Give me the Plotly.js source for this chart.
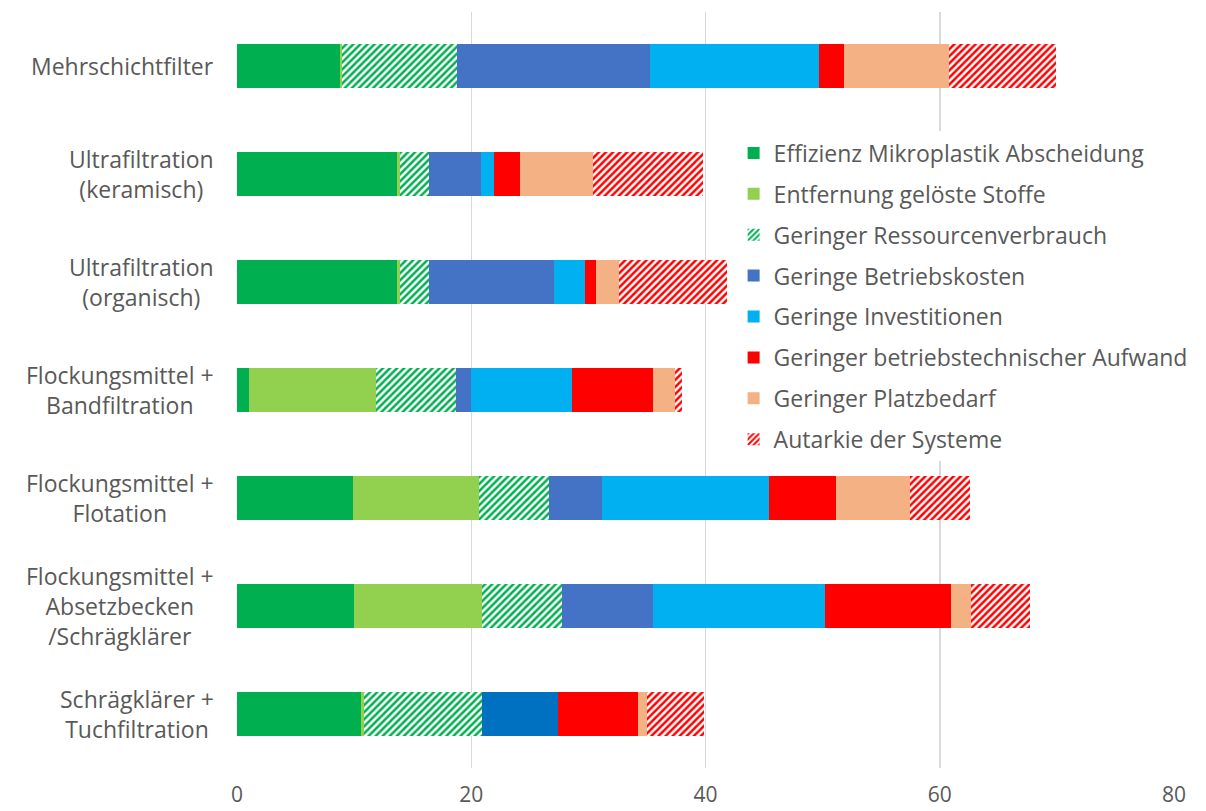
<!DOCTYPE html>
<html>
<head>
<meta charset="utf-8">
<script src="https://cdn.plot.ly/plotly-3.0.1.min.js"></script>
<style>html,body{margin:0;padding:0;background:#fff;}#chart{width:1206px;height:811px;}</style>
</head>
<body>
<div id="chart"></div>
<script>
// Categories, top to bottom
const categories = [
  "Mehrschichtfilter",
  "Ultrafiltration<br>(keramisch)",
  "Ultrafiltration<br>(organisch)",
  "Flockungsmittel +<br>Bandfiltration",
  "Flockungsmittel +<br>Flotation",
  "Flockungsmittel +<br>Absetzbecken<br>/Schrägklärer",
  "Schrägklärer +<br>Tuchfiltration"
];
const seriesNames = [
  "Effizienz Mikroplastik Abscheidung",
  "Entfernung gelöste Stoffe",
  "Geringer Ressourcenverbrauch",
  "Geringe Betriebskosten",
  "Geringe Investitionen",
  "Geringer betriebstechnischer Aufwand",
  "Geringer Platzbedarf",
  "Autarkie der Systeme"
];
const effizienz      = [8.76, 13.69, 13.69, 1.00, 9.90, 9.95, 10.56];
const entfernung     = [0.20, 0.20, 0.20, 10.84, 10.79, 10.95, 0.25];
const ressourcen     = [9.80, 2.48, 2.48, 6.90, 5.99, 6.88, 10.12];
const betriebskosten = [16.50, 4.44, 10.68, 1.20, 4.47, 7.77, 6.49];
const investitionen  = [14.45, 1.11, 2.68, 8.63, 14.24, 14.61, 0];
const aufwand        = [2.10, 2.22, 0.94, 6.98, 5.71, 10.76, 6.84];
const platzbedarf    = [8.95, 6.26, 1.94, 1.85, 6.40, 1.79, 0.71];
const autarkie       = [9.15, 9.35, 9.20, 0.63, 5.05, 5.01, 4.90];
const xTicks = [0, 20, 40, 60, 80];

const seriesValues = [effizienz, entfernung, ressourcen, betriebskosten, investitionen, aufwand, platzbedarf, autarkie];
const FONT = "'Open Sans', sans-serif";
const GREY = "#595959";

const styles = [
  {color: "#00B050"},
  {color: "#92D050"},
  {color: "#FFFFFF", pattern: {shape: "/", fgcolor: "#00B050", bgcolor: "#FFFFFF", size: 5, solidity: 0.5}},
  {color: ["#4472C4","#4472C4","#4472C4","#4472C4","#4472C4","#4472C4","#0070C0"]},
  {color: "#00B0F0"},
  {color: "#FF0000"},
  {color: "#F4B183"},
  {color: "#FFFFFF", pattern: {shape: "/", fgcolor: "#FF0000", bgcolor: "#FFFFFF", size: 5, solidity: 0.5}}
];

const traces = seriesNames.map((name, i) => ({
  type: "bar",
  orientation: "h",
  name: name,
  legendgroup: "g" + i,
  x: seriesValues[i],
  y: categories,
  marker: Object.assign({line: {width: 0}}, styles[i]),
  hoverinfo: "skip"
}));

const annotations = categories.map(c => ({
  xref: "paper", yref: "y",
  x: -0.022, y: c,
  xanchor: "right", yanchor: "middle",
  align: "center",
  text: c,
  showarrow: false,
  font: {family: FONT, size: 23, color: GREY}
}));

const layout = {
  width: 1206, height: 811,
  margin: {l: 237, r: 32, t: 12, b: 43},
  paper_bgcolor: "#FFFFFF",
  plot_bgcolor: "#FFFFFF",
  barmode: "stack",
  bargap: 0.6,
  showlegend: true,
  font: {family: FONT, color: GREY},
  xaxis: {
    range: [0, 80],
    tickvals: xTicks,
    ticktext: xTicks.map(String),
    showgrid: true, gridcolor: "#D9D9D9", gridwidth: 1.5,
    zeroline: false, showline: false, ticks: "",
    ticklabelstandoff: 12,
    tickfont: {family: FONT, size: 21, color: GREY}
  },
  yaxis: {
    type: "category",
    categoryorder: "array",
    categoryarray: categories,
    range: [6.5, -0.5],
    showticklabels: false,
    showgrid: false, zeroline: false, showline: false, ticks: ""
  },
  legend: {
    x: 0.53, y: 0.842, xanchor: "left", yanchor: "top",
    bgcolor: "#FFFFFF",
    font: {family: FONT, size: 23, color: GREY},
    tracegroupgap: 8,
    traceorder: "grouped",
    itemwidth: 30
  },
  annotations: annotations
};

Plotly.newPlot("chart", traces, layout, {staticPlot: true, displayModeBar: false});
</script>
</body>
</html>
